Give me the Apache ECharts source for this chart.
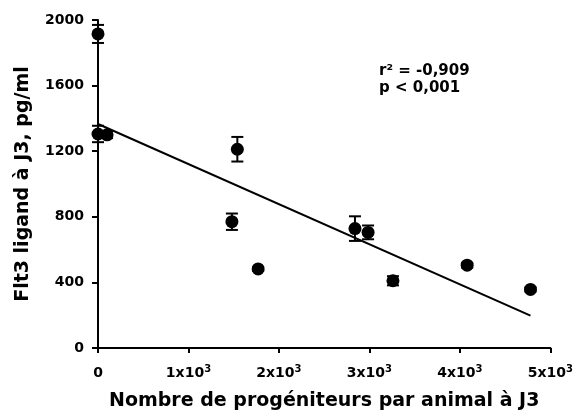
<!DOCTYPE html>
<html><head><meta charset="utf-8">
<script src="https://cdn.jsdelivr.net/npm/echarts@6/dist/echarts.min.js"></script>
<style>html,body{margin:0;padding:0;background:#fff}#c{width:576px;height:419px}</style>
</head><body><div id="c"></div>
<script>
// Data
const progenitors = [0, 100, 0, 1540, 1480, 1770, 2840, 2985, 3260, 4080, 4780];
const flt3 = [1915, 1300, 1305, 1212, 770, 482, 728, 705, 410, 505, 357];
const errors = [55, 20, 50, 75, 50, 12, 75, 42, 28, 15, 12];
const fitX = [0, 4780];
const fitY = [1366, 197];
const xTickMantissa = ['0', '1', '2', '3', '4', '5'];
const statText = ['r² = -0,909', 'p < 0,001'];

const font = '"DejaVu Sans", sans-serif';
const chart = echarts.init(document.getElementById('c'));
const points = progenitors.map((x, i) => [x, flt3[i]]);
const errData = progenitors.map((x, i) => [x, flt3[i] - errors[i], flt3[i] + errors[i]]);

chart.setOption({
  animation: false,
  grid: {left: 98, right: 24, top: 20, bottom: 71},
  xAxis: {
    type: 'value', min: 0, max: 5000, interval: 1000,
    splitLine: {show: false},
    axisLine: {lineStyle: {color: '#000', width: 2}},
    axisTick: {lineStyle: {color: '#000', width: 2}, length: 5},
    axisLabel: {
      color: '#000', fontWeight: 'bold', fontSize: 14, fontFamily: font, margin: 16,
      formatter: (v) => {
        const m = xTickMantissa[Math.round(v / 1000)];
        return v === 0 ? '{z|' + m + '}' : '{b|' + m + 'x10}{s|3}';
      },
      rich: {
        b: {fontWeight: 'bold', fontSize: 14, fontFamily: font, color: '#000'},
        z: {fontWeight: 'bold', fontSize: 14, fontFamily: font, color: '#000', padding: [2, 0, 2, 0]},
        s: {fontWeight: 'bold', fontSize: 10, fontFamily: font, color: '#000', padding: [0, 0, 8, 0]}
      }
    },
    name: 'Nombre de progéniteurs par animal à J3',
    nameLocation: 'middle', nameGap: 44,
    nameTextStyle: {color: '#000', fontWeight: 'bold', fontSize: 19, fontFamily: font}
  },
  yAxis: {
    type: 'value', min: 0, max: 2000, interval: 400,
    splitLine: {show: false},
    axisLine: {lineStyle: {color: '#000', width: 2}},
    axisTick: {lineStyle: {color: '#000', width: 2}, length: 6},
    axisLabel: {color: '#000', fontWeight: 'bold', fontSize: 14, fontFamily: font, margin: 14,
      formatter: (v) => String(v)},
    name: 'Flt3 ligand à J3, pg/ml',
    nameLocation: 'middle', nameGap: 65,
    nameTextStyle: {color: '#000', fontWeight: 'bold', fontSize: 19, fontFamily: font}
  },
  graphic: [{
    type: 'text', left: 379, top: 63,
    style: {text: statText.join('\n'), fill: '#000', font: 'bold 15px "DejaVu Sans", sans-serif', lineHeight: 17}
  }],
  series: [
    {
      type: 'line', data: fitX.map((x, i) => [x, fitY[i]]),
      symbol: 'none', lineStyle: {color: '#000', width: 2}, z: 1
    },
    {
      type: 'custom', data: errData, z: 2,
      renderItem: (params, api) => {
        const x = api.value(0);
        const lo = api.coord([x, api.value(1)]);
        const hi = api.coord([x, api.value(2)]);
        const w = 6;
        const st = {stroke: '#000', lineWidth: 2};
        return {type: 'group', children: [
          {type: 'line', shape: {x1: lo[0], y1: lo[1], x2: hi[0], y2: hi[1]}, style: st},
          {type: 'line', shape: {x1: lo[0] - w, y1: lo[1], x2: lo[0] + w, y2: lo[1]}, style: st},
          {type: 'line', shape: {x1: hi[0] - w, y1: hi[1], x2: hi[0] + w, y2: hi[1]}, style: st}
        ]};
      }
    },
    {
      type: 'scatter', data: points, symbol: 'circle', symbolSize: 13,
      itemStyle: {color: '#000', opacity: 1}, z: 3
    }
  ]
});
</script></body></html>
